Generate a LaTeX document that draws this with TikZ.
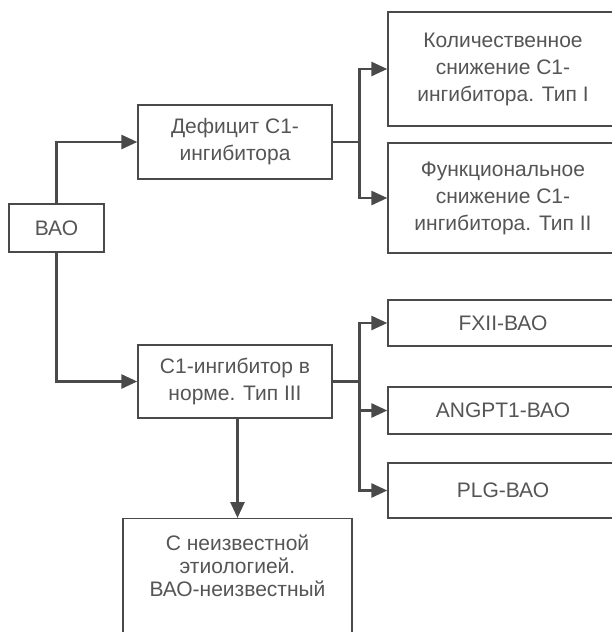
\documentclass[tikz,border=0pt]{standalone}
\usepackage{fontspec}
\setmainfont{Liberation Sans}
\usetikzlibrary{arrows.meta}
\definecolor{ln}{HTML}{4A4A4A}
\definecolor{tx}{HTML}{555555}
\begin{document}
\begin{tikzpicture}[x=1pt,y=-1pt,
  box/.style={draw=ln,line width=1.4pt,inner sep=0pt,align=center,text=tx,
    font=\fontsize{21}{27}\selectfont},
  arr/.style={draw=ln,line width=2.8pt,-{Triangle[length=16pt,width=14pt]}},
  ln/.style={draw=ln,line width=2.8pt}]
\useasboundingbox (0,0) rectangle (612,632);
\fill[white] (0,0) rectangle (612,632);
\clip (0,0) rectangle (612,632);
\node[box,minimum width=95pt,minimum height=48pt] (bao) at (56.5,228) {ВАО};
\node[box,minimum width=194pt,minimum height=74pt] (def) at (235,142) {Дефицит С1-\\ингибитора};
\node[box,minimum width=230pt,minimum height=114pt] (r1) at (503,69) {Количественное\\снижение С1-\\ингибитора. Тип I};
\node[box,minimum width=230pt,minimum height=110pt] (r2) at (503,198) {Функциональное\\снижение С1-\\ингибитора. Тип II};
\node[box,minimum width=194pt,minimum height=73pt] (norm) at (235,381.5) {С1-ингибитор в\\норме. Тип III};
\node[box,minimum width=230pt,minimum height=46pt] (fx) at (503,323) {FXII-ВАО};
\node[box,minimum width=230pt,minimum height=47pt] (an) at (503,410.5) {ANGPT1-ВАО};
\node[box,minimum width=230pt,minimum height=55pt] (pl) at (503,490.5) {PLG-ВАО};
\node[box,minimum width=229pt,minimum height=130pt,anchor=north] (unk) at (237.5,518) {};
\node[align=center,text=tx,font=\fontsize{21}{23}\selectfont,inner sep=0pt] (unkt) at (237.5,566) {С неизвестной\\этиологией.\\ВАО-неизвестный};
\draw[arr] (bao.north) |- (def.west);
\draw[arr] (bao.south) |- (norm.west);
\coordinate (j1) at ([xshift=27pt]def.east);
\coordinate (j2) at ([xshift=27pt]norm.east);
\draw[ln] (def.east) -- (j1);
\draw[arr] (j1) |- (r1.west);
\draw[arr] (j1) |- (r2.west);
\draw[ln] (norm.east) -- (j2);
\draw[arr] (j2) |- (fx.west);
\draw[arr] (j2) |- (an.west);
\draw[arr] (j2) |- (pl.west);
\draw[arr] (norm.south -| unk.north) -- (unk.north);
\end{tikzpicture}
\end{document}
